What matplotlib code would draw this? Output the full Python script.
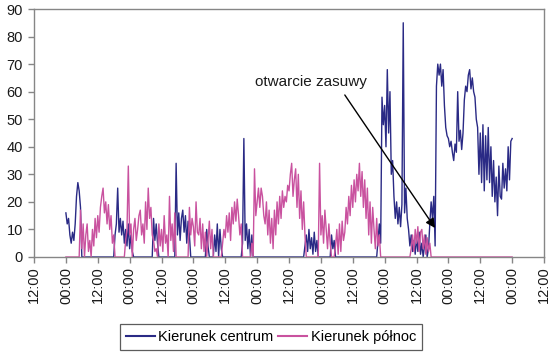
import numpy as np
from matplotlib import pyplot as plt

plt.rcParams['font.family'] = ['Liberation Sans', 'DejaVu Sans']
plt.rcParams['font.size'] = 10.5

# czas pomiaru w godzinach od pierwszego 12:00 na osi, co 30 min
hours = np.arange(12, 180.5, 0.5)

# Kierunek centrum, h12..h180 (jeden wiersz = 6 godzin)
centrum = [
    16, 12, 14, 8, 5, 9, 6, 12, 22, 27, 24, 18,
    0, 0, 0, 0, 0, 0, 0, 0, 0, 0, 0, 0,
    0, 0, 0, 0, 0, 0, 0, 0, 0, 0, 0, 0,
    0, 8, 12, 25, 9, 14, 8, 13, 5, 10, 4, 12,
    3, 8, 2, 0, 0, 0, 0, 0, 0, 0, 0, 0,
    0, 0, 0, 0, 0, 0, 14, 6, 12, 5, 0, 0,
    0, 0, 0, 0, 0, 0, 0, 0, 0, 0, 0, 34,
    8, 16, 6, 14, 17, 9, 15, 5, 13, 8, 0, 0,
    0, 0, 0, 0, 0, 0, 0, 0, 0, 0, 10, 4,
    0, 0, 0, 0, 8, 2, 12, 0, 10, 3, 0, 0,
    0, 0, 0, 0, 0, 0, 0, 0, 0, 0, 0, 0,
    0, 5, 43, 6, 12, 3, 10, 0, 8, 0, 0, 0,
    0, 0, 0, 0, 0, 0, 0, 0, 0, 0, 0, 0,
    0, 0, 0, 0, 0, 0, 0, 0, 0, 0, 0, 0,
    0, 0, 0, 0, 0, 0, 0, 0, 0, 0, 0, 0,
    4, 8, 2, 10, 3, 7, 1, 9, 2, 6, 0, 0,
    0, 0, 0, 0, 0, 0, 0, 0, 8, 3, 6, 0,
    0, 0, 0, 0, 0, 0, 0, 0, 0, 0, 0, 0,
    0, 0, 0, 0, 0, 0, 0, 0, 0, 0, 0, 0,
    0, 0, 0, 0, 0, 0, 0, 6, 12, 5, 58, 48,
    55, 40, 68, 45, 60, 30, 35, 22, 14, 20, 12, 18,
    11, 19, 85, 16, 25, 14, 10, 4, 8, 2, 6, 1,
    7, 2, 9, 1, 5, 0, 4, 8, 0, 3, 12, 20,
    14, 22, 4, 62, 70, 66, 70, 62, 68, 55, 47, 44,
    43, 40, 42, 38, 35, 41, 38, 60, 42, 46, 39, 45,
    57, 62, 60, 66, 68, 61, 65, 60, 58, 50, 47, 30,
    45, 27, 48, 24, 44, 28, 47, 27, 40, 22, 35, 20,
    29, 15, 33, 22, 21, 34, 25, 32, 24, 40, 28, 42,
    43,
]

# Kierunek północ, h12..h180
polnoc = [
    0, 0, 0, 0, 0, 0, 0, 0, 0, 0, 0, 17,
    3, 12, 0, 8, 12, 2, 6, 0, 10, 4, 14, 7,
    15, 9, 18, 22, 25, 16, 20, 12, 19, 10, 15, 5,
    8, 0, 0, 0, 0, 0, 0, 0, 0, 6, 10, 33,
    8, 12, 0, 10, 14, 6, 10, 15, 17, 8, 12, 5,
    20, 10, 25, 14, 18, 8, 6, 2, 3, 0, 12, 4,
    10, 2, 15, 5, 8, 0, 22, 6, 12, 2, 16, 0,
    0, 0, 0, 0, 0, 0, 0, 0, 0, 18, 8, 14,
    11, 4, 20, 9, 8, 14, 3, 12, 2, 9, 0, 6,
    13, 3, 10, 0, 0, 0, 0, 0, 0, 0, 5, 10,
    7, 15, 9, 16, 6, 18, 12, 20, 13, 21, 15, 8,
    12, 0, 0, 0, 0, 0, 0, 0, 5, 0, 32, 15,
    20, 25, 18, 25, 22, 15, 12, 20, 8, 17, 5, 14,
    3, 17, 8, 20, 12, 22, 14, 24, 18, 22, 20, 26,
    24, 30, 34, 22, 28, 32, 18, 30, 14, 24, 10, 20,
    8, 0, 0, 0, 0, 0, 0, 0, 0, 0, 0, 34,
    8, 15, 5, 17, 10, 3, 12, 5, 0, 0, 0, 4,
    10, 1, 12, 2, 13, 6, 9, 18, 12, 22, 15, 26,
    18, 28, 20, 30, 24, 34, 22, 31, 18, 28, 14, 25,
    8, 20, 5, 18, 10, 3, 14, 4, 8, 0, 0, 0,
    0, 0, 0, 0, 0, 0, 0, 0, 0, 0, 0, 0,
    0, 0, 0, 0, 0, 0, 0, 0, 3, 8, 2, 10,
    5, 11, 2, 9, 10, 3, 8, 1, 7, 2, 5, 0,
    0, 0, 0, 0, 0, 0, 0, 0, 0, 0, 0, 0,
    0, 0, 0, 0, 0, 0, 0, 0, 0, 0, 0, 0,
    0, 0, 0, 0, 0, 0, 0, 0, 0, 0, 0, 0,
    0, 0, 0, 0, 0, 0, 0, 0, 0, 0, 0, 0,
    0, 0, 0, 0, 0, 0, 0, 0, 0, 0, 0, 0,
    0,
]
assert len(centrum) == len(hours) and len(polnoc) == len(hours)

x_ticks = np.arange(0, 193, 12)
x_labels = ['12:00', '00:00'] * 8 + ['12:00']
y_ticks = np.arange(0, 91, 10)

annot_text = 'otwarcie zasuwy'
annot_text_pos = (104.3, 63.5)
arrow_start = (117, 58.8)
arrow_end = (151, 10.5)

blue = '#2a2a85'
pink = '#c9529f'
gray = '#868686'

fig = plt.figure(figsize=(5.54, 3.53), dpi=100)
ax = fig.add_axes([0.0614, 0.272, 0.9206, 0.7025])

line_c, = ax.plot(hours, centrum, color=blue, lw=1.0, label='Kierunek centrum')
line_p, = ax.plot(hours, polnoc, color=pink, lw=1.0, label='Kierunek północ')

ax.set_xlim(0, 192)
ax.set_ylim(0, 90)
ax.set_xticks(x_ticks)
ax.set_xticklabels(x_labels, rotation=90)
ax.set_yticks(y_ticks)

for side in ['left', 'bottom', 'top', 'right']:
    ax.spines[side].set_color(gray)
    ax.spines[side].set_linewidth(1.0)
ax.tick_params(axis='both', direction='out', length=4, width=1, color=gray,
               labelcolor='#1a1a1a')
ax.tick_params(axis='x', pad=3)
ax.tick_params(axis='y', pad=4)

# strzałka i opis
ax.text(annot_text_pos[0], annot_text_pos[1], annot_text, ha='center', va='center',
        fontsize=11, color='#1a1a1a')
ax.annotate('', xy=arrow_end, xytext=arrow_start,
            arrowprops=dict(arrowstyle='-|>', color='black', lw=1,
                            mutation_scale=14, shrinkA=0, shrinkB=0))

leg = fig.legend(handles=[line_c, line_p], loc='center', bbox_to_anchor=(0.489, 0.0453),
                 ncol=2, frameon=True, fancybox=False, edgecolor='#333333',
                 handlelength=2.0, handletextpad=0.25, columnspacing=0.3,
                 borderpad=0.4, borderaxespad=0)
leg.get_frame().set_linewidth(0.9)
for h in leg.get_lines():
    h.set_linewidth(1.5)

fig.savefig('out.png', dpi=100)
plt.close(fig)
